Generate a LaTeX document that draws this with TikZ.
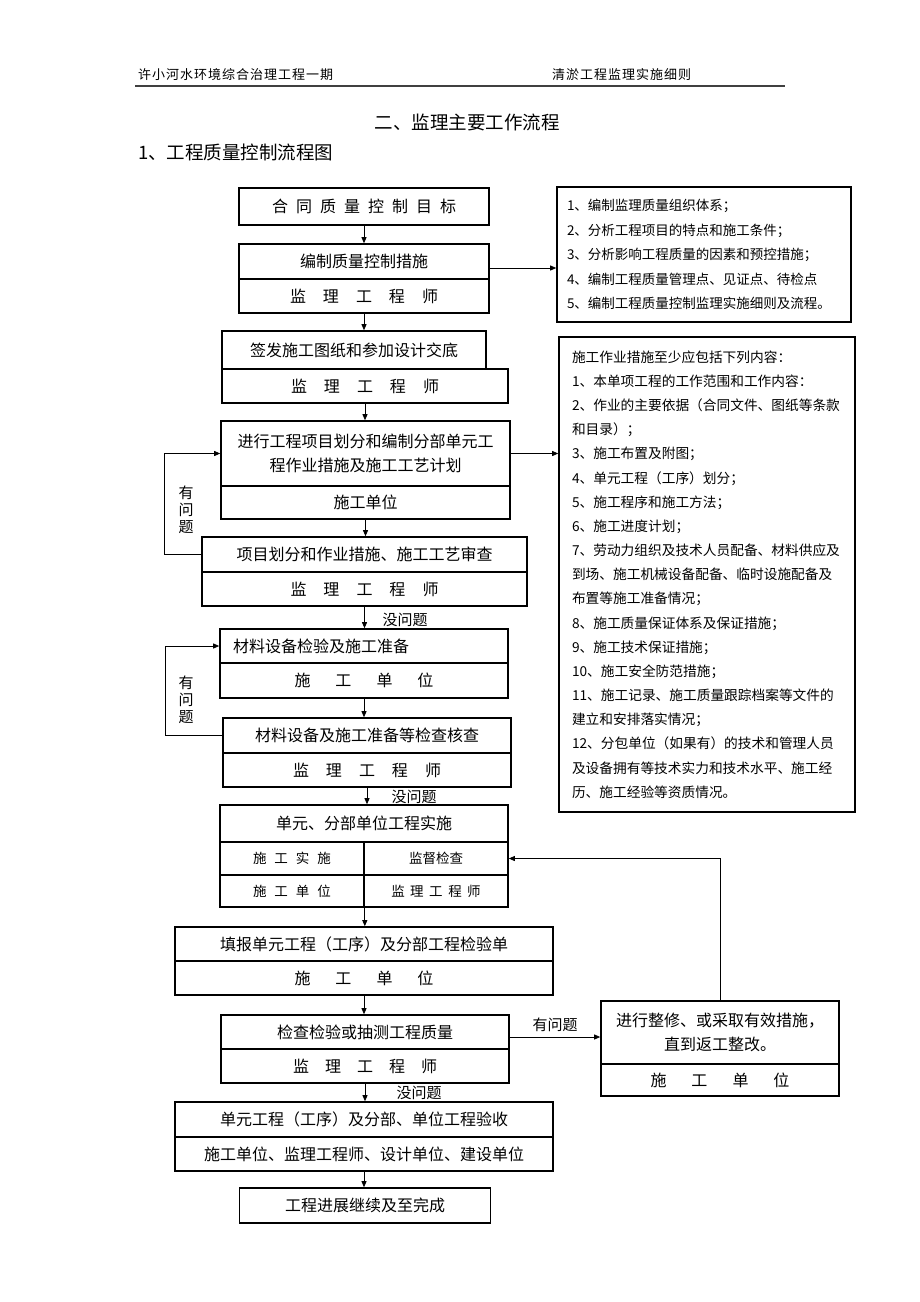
\documentclass[tikz,border=0pt]{standalone}
\usepackage{fontspec}
\setmainfont{Noto Sans CJK SC}
\usetikzlibrary{arrows.meta}
\newcommand{\fsz}[2]{\fontsize{#1}{#2}\selectfont}
\makeatletter
\newcommand{\lsp}[2]{\def\lsp@sep{}\@tfor\lsp@c:=#2\do{\lsp@sep\lsp@c\def\lsp@sep{\hspace{#1}}}}
\makeatother
\begin{document}
\begin{tikzpicture}[x=1pt,y=-1pt,
  bx/.style={draw, line width=1.6pt, inner sep=0pt, font=\fsz{16}{20}},
  small/.style={bx, font=\fsz{13.5}{16}},
  note/.style={draw, line width=1.6pt, align=left, inner ysep=0pt, font=\fsz{13.5}{24.5}},
  arr/.style={line width=0.8pt, -{Triangle[length=6pt,width=5pt]}},
  lbl/.style={inner sep=0pt, font=\fsz{15}{17}}]
\useasboundingbox (0,0) rectangle (920,1302);
\fill[white] (0,0) rectangle (920,1302);
% header
\node[anchor=west, inner sep=0pt, font=\fsz{13}{15}] (hl) at (138,75) {\lsp{1pt}{许小河水环境综合治理工程一期}};
\node[anchor=west, inner sep=0pt, font=\fsz{13}{15}] (hr) at (552,75) {\lsp{1pt}{清淤工程监理实施细则}};
\draw[line width=1.2pt, black!75] (135,86) -- (785,86);
\node[inner sep=0pt, font=\fsz{18.5}{20}] (title) at (467,122) {二、监理主要工作流程};
\node[anchor=west, inner sep=0pt, font=\fsz{18.5}{20}] (sub) at (138,152) {1、工程质量控制流程图};
% main column
\node[bx, minimum width=250pt, minimum height=37pt] (B1) at (364,206.5) {\lsp{8pt}{合同质量控制目标}};
\node[bx, minimum width=250pt, minimum height=35pt] (B2t) at (364,261.5) {编制质量控制措施};
\node[bx, minimum width=250pt, minimum height=34pt] (B2b) at (364,296) {\lsp{17pt}{监理工程师}};
\node[bx, minimum width=264pt, minimum height=38pt] (B3t) at (354,350) {签发施工图纸和参加设计交底};
\node[bx, minimum width=286pt, minimum height=34pt] (B3b) at (365,386) {\lsp{17pt}{监理工程师}};
\node[bx, minimum width=289pt, minimum height=65pt, align=center, font=\fsz{16}{24}] (B4t) at (365.5,453.5) {进行工程项目划分和编制分部单元工\\程作业措施及施工工艺计划};
\node[bx, minimum width=289pt, minimum height=33pt] (B4b) at (365.5,502.5) {施工单位};
\node[bx, minimum width=325pt, minimum height=35pt] (B5t) at (364.5,554.5) {项目划分和作业措施、施工工艺审查};
\node[bx, minimum width=325pt, minimum height=34pt] (B5b) at (364.5,589) {\lsp{17pt}{监理工程师}};
\node[bx, text width=262pt, inner xsep=13pt, minimum height=34pt, align=left] (B6t) at (364,646) {材料设备检验及施工准备};
\node[bx, minimum width=288pt, minimum height=35pt] (B6b) at (364,680.5) {\lsp{25pt}{施工单位}};
\node[bx, minimum width=288pt, minimum height=35pt] (B7t) at (367,735.5) {材料设备及施工准备等检查核查};
\node[bx, minimum width=288pt, minimum height=34pt] (B7b) at (367,770) {\lsp{17pt}{监理工程师}};
\node[bx, minimum width=288pt, minimum height=37pt] (B8t) at (364,823.5) {单元、分部单位工程实施};
\node[small, minimum width=144pt, minimum height=33pt] (B8a) at (292,858.5) {\lsp{8pt}{施工实施}};
\node[small, minimum width=144pt, minimum height=33pt] (B8b) at (436,858.5) {监督检查};
\node[small, minimum width=144pt, minimum height=32pt] (B8c) at (292,891) {\lsp{8pt}{施工单位}};
\node[small, minimum width=144pt, minimum height=32pt] (B8d) at (436,891) {\lsp{5.5pt}{监理工程师}};
\node[bx, minimum width=378pt, minimum height=34pt] (B9t) at (364,944) {填报单元工程（工序）及分部工程检验单};
\node[bx, minimum width=378pt, minimum height=34pt] (B9b) at (364,978) {\lsp{25pt}{施工单位}};
\node[bx, minimum width=288pt, minimum height=34pt] (B10t) at (365,1032) {检查检验或抽测工程质量};
\node[bx, minimum width=288pt, minimum height=34pt] (B10b) at (365,1066) {\lsp{16pt}{监理工程师}};
\node[bx, minimum width=378pt, minimum height=35pt] (B11t) at (364,1119.5) {单元工程（工序）及分部、单位工程验收};
\node[bx, minimum width=378pt, minimum height=34pt] (B11b) at (364,1154) {施工单位、监理工程师、设计单位、建设单位};
\node[bx, minimum width=251pt, minimum height=35pt] (B12) at (365,1205.5) {工程进展继续及至完成};
% right column
\node[note, text width=274pt, inner xsep=10pt, minimum height=135pt] (R1) at (704,254.5) {1、编制监理质量组织体系；\\2、分析工程项目的特点和施工条件；\\3、分析影响工程质量的因素和预控措施；\\4、编制工程质量管理点、见证点、待检点\\5、编制工程质量控制监理实施细则及流程。};
\node[note, text width=270pt, inner xsep=13pt, minimum height=475pt, font=\fsz{13.7}{24.17}] (R2) at (707,574.5) {施工作业措施至少应包括下列内容：\\1、本单项工程的工作范围和工作内容：\\2、作业的主要依据（合同文件、图纸等条款\\和目录）；\\3、施工布置及附图；\\4、单元工程（工序）划分；\\5、施工程序和施工方法；\\6、施工进度计划；\\7、劳动力组织及技术人员配备、材料供应及\\到场、施工机械设备配备、临时设施配备及\\布置等施工准备情况；\\8、施工质量保证体系及保证措施；\\9、施工技术保证措施；\\10、施工安全防范措施；\\11、施工记录、施工质量跟踪档案等文件的\\建立和安排落实情况；\\12、分包单位（如果有）的技术和管理人员\\及设备拥有等技术实力和技术水平、施工经\\历、施工经验等资质情况。};
\node[bx, minimum width=238pt, minimum height=63pt, align=center, font=\fsz{16}{24}] (R3t) at (720,1032.5) {进行整修、或采取有效措施，\\直到返工整改。};
\node[bx, minimum width=238pt, minimum height=32pt] (R3b) at (720,1080) {\lsp{25pt}{施工单位}};
% labels
\node[lbl, align=center] (L1) at (186,510) {有\\问\\题};
\node[lbl, align=center] (L2) at (186,700) {有\\问\\题};
\node[lbl] (L3) at (405,620) {没问题};
\node[lbl] (L4) at (414,797) {没问题};
\node[lbl] (L5) at (555,1025) {有问题};
\node[lbl] (L6) at (419,1093) {没问题};
% connectors
\draw[arr] (B1.south) -- (B1.south |- B2t.north);
\draw[arr] ([yshift=-6.5pt]B2t.east) -- ([yshift=-6.5pt]B2t.east -| R1.west);
\draw[arr] (B2b.south) -- (B2b.south |- B3t.north);
\draw[arr] (B3b.south) -- (B3b.south |- B4t.north);
\draw[arr] (B4t.east) -- (B4t.east -| R2.west);
\draw[arr] (B4b.south) -- (B4b.south |- B5t.north);
\draw[arr] (B5t.west) -- ++(-37pt,0) |- (B4t.west);
\draw[arr] (B5b.south) -- (B5b.south |- B6t.north);
\draw[arr] (B6b.south) -- (B6b.south |- B7t.north);
\draw[arr] (B7t.west) -- ++(-57pt,0) |- (B6t.west);
\draw[arr] (B7b.south) -- (B7b.south |- B8t.north);
\draw[arr] (B8c.south east) -- (B8c.south east |- B9t.north);
\draw[arr] (B9b.south) -- (B9b.south |- B10t.north);
\draw[arr] ([yshift=-5pt]B10t.east) -- ([yshift=-5pt]B10t.east -| R3t.west);
\draw[arr] (R3t.north) |- (B8b.east);
\draw[arr] (B10b.south) -- (B10b.south |- B11t.north);
\draw[arr] (B11b.south) -- (B11b.south |- B12.north);
\end{tikzpicture}
\end{document}
